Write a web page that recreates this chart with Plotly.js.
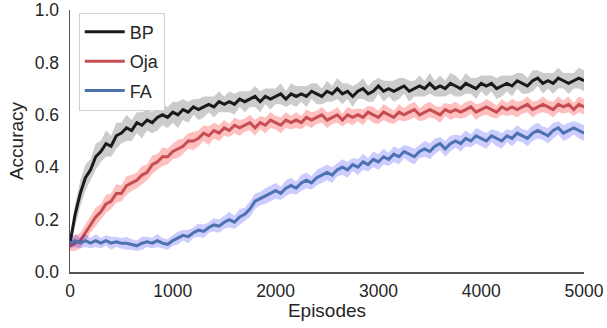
<!DOCTYPE html>
<html>
<head>
<meta charset="utf-8">
<script src="https://cdn.plot.ly/plotly-3.0.1.min.js"></script>
<style>html,body{margin:0;padding:0;background:#fff;}#chart{width:607px;height:328px;}</style>
</head>
<body>
<div id="chart"></div>
<script>
var episodeStep = 50;
var episodeMax = 5000;
var seriesNames = ["BP", "Oja", "FA"];

var bpMean = [
0.11,0.22,0.30,0.36,0.39,0.44,0.46,0.49,0.48,0.52,
0.53,0.55,0.54,0.57,0.56,0.58,0.57,0.59,0.60,0.59,
0.61,0.60,0.62,0.61,0.63,0.62,0.63,0.64,0.63,0.65,
0.64,0.65,0.64,0.66,0.65,0.66,0.67,0.65,0.67,0.66,
0.67,0.68,0.66,0.68,0.67,0.68,0.67,0.69,0.68,0.67,
0.69,0.68,0.70,0.68,0.69,0.67,0.69,0.70,0.68,0.69,
0.71,0.69,0.70,0.69,0.70,0.71,0.69,0.70,0.71,0.70,
0.72,0.70,0.71,0.70,0.72,0.71,0.70,0.72,0.71,0.70,
0.72,0.71,0.72,0.70,0.71,0.72,0.71,0.73,0.72,0.71,
0.73,0.74,0.72,0.73,0.72,0.74,0.73,0.72,0.73,0.74,
0.73];
var ojaMean = [
0.10,0.11,0.12,0.15,0.18,0.21,0.23,0.26,0.27,0.30,
0.30,0.33,0.34,0.35,0.37,0.38,0.41,0.42,0.44,0.44,
0.46,0.47,0.48,0.50,0.50,0.51,0.53,0.52,0.54,0.53,
0.55,0.54,0.56,0.55,0.56,0.57,0.55,0.57,0.56,0.58,
0.57,0.56,0.58,0.57,0.58,0.57,0.59,0.58,0.59,0.60,
0.58,0.59,0.60,0.58,0.60,0.59,0.60,0.59,0.61,0.60,
0.59,0.61,0.60,0.59,0.61,0.60,0.61,0.62,0.60,0.61,
0.62,0.61,0.60,0.62,0.61,0.62,0.61,0.62,0.63,0.61,
0.62,0.63,0.62,0.61,0.63,0.62,0.63,0.62,0.63,0.64,
0.62,0.63,0.64,0.63,0.62,0.64,0.63,0.64,0.62,0.64,
0.63];
var faMean = [
0.11,0.12,0.11,0.12,0.11,0.12,0.11,0.12,0.11,0.115,
0.11,0.11,0.105,0.10,0.11,0.115,0.11,0.12,0.11,0.105,
0.12,0.13,0.14,0.135,0.15,0.16,0.155,0.17,0.18,0.175,
0.19,0.20,0.19,0.21,0.22,0.24,0.27,0.28,0.29,0.30,
0.31,0.30,0.32,0.33,0.32,0.34,0.35,0.34,0.36,0.37,
0.38,0.37,0.39,0.40,0.39,0.41,0.40,0.42,0.41,0.43,
0.42,0.44,0.43,0.45,0.44,0.46,0.45,0.44,0.46,0.47,
0.46,0.48,0.49,0.47,0.49,0.50,0.49,0.51,0.50,0.52,
0.51,0.50,0.52,0.51,0.50,0.52,0.51,0.53,0.52,0.51,
0.53,0.54,0.53,0.52,0.54,0.55,0.53,0.54,0.55,0.54,
0.53];

var bpSpread = [
0.01,0.04,0.05,0.05,0.04,0.05,0.04,0.05,0.04,0.05,
0.04,0.05,0.04,0.04,0.05,0.04,0.04,0.05,0.04,0.04,
0.04,0.05,0.04,0.04,0.03,0.04,0.04,0.03,0.04,0.04,
0.03,0.04,0.04,0.03,0.04,0.03,0.04,0.04,0.03,0.04,
0.03,0.04,0.03,0.04,0.04,0.03,0.04,0.03,0.04,0.03,
0.04,0.03,0.04,0.04,0.03,0.04,0.03,0.04,0.03,0.04,
0.03,0.04,0.03,0.04,0.04,0.03,0.04,0.03,0.04,0.03,
0.04,0.03,0.04,0.03,0.04,0.04,0.03,0.04,0.03,0.04,
0.03,0.04,0.03,0.04,0.04,0.03,0.04,0.03,0.04,0.03,
0.04,0.03,0.04,0.03,0.04,0.04,0.03,0.04,0.03,0.04,
0.04];
var ojaSpread = [
0.02,0.03,0.03,0.03,0.03,0.035,0.03,0.035,0.03,0.035,
0.03,0.035,0.03,0.03,0.035,0.03,0.035,0.03,0.035,0.03,
0.03,0.035,0.03,0.03,0.035,0.03,0.03,0.035,0.03,0.03,
0.03,0.025,0.03,0.03,0.025,0.03,0.03,0.025,0.03,0.03,
0.025,0.03,0.03,0.025,0.03,0.025,0.03,0.03,0.025,0.03,
0.03,0.025,0.03,0.025,0.03,0.03,0.025,0.03,0.025,0.03,
0.025,0.03,0.03,0.025,0.03,0.025,0.03,0.03,0.025,0.03,
0.03,0.025,0.03,0.025,0.03,0.03,0.025,0.03,0.025,0.03,
0.025,0.03,0.03,0.025,0.03,0.025,0.03,0.03,0.025,0.03,
0.03,0.025,0.03,0.025,0.03,0.03,0.025,0.03,0.025,0.03,
0.03];
var faSpread = [
0.02,0.025,0.02,0.025,0.02,0.025,0.02,0.02,0.025,0.02,
0.02,0.025,0.02,0.02,0.025,0.02,0.02,0.025,0.02,0.02,
0.02,0.025,0.02,0.025,0.02,0.025,0.025,0.02,0.025,0.025,
0.025,0.03,0.025,0.03,0.025,0.03,0.03,0.025,0.03,0.03,
0.03,0.025,0.03,0.03,0.025,0.03,0.03,0.025,0.03,0.03,
0.03,0.03,0.025,0.03,0.03,0.025,0.03,0.03,0.025,0.03,
0.03,0.03,0.025,0.03,0.03,0.025,0.03,0.03,0.025,0.03,
0.03,0.03,0.025,0.03,0.03,0.025,0.03,0.03,0.025,0.03,
0.03,0.03,0.025,0.03,0.03,0.025,0.03,0.03,0.025,0.03,
0.03,0.03,0.025,0.03,0.03,0.025,0.03,0.03,0.025,0.03,
0.03];

var episodes = [];
for (var e = 0; e <= episodeMax; e += episodeStep) episodes.push(e);

var styles = [
  {line: "#1a1a1a", band: "rgba(0,0,0,0.2)"},
  {line: "#c44e52", band: "rgba(255,0,0,0.25)"},
  {line: "#4c72b0", band: "rgba(0,0,255,0.2)"}
];
var means = [bpMean, ojaMean, faMean];
var spreads = [bpSpread, ojaSpread, faSpread];

var traces = [];
for (var i = 0; i < 3; i++) {
  var up = [], lo = [];
  for (var k = 0; k < episodes.length; k++) {
    up.push(means[i][k] + spreads[i][k]);
    lo.push(means[i][k] - spreads[i][k]);
  }
  traces.push({
    x: episodes.concat(episodes.slice().reverse()),
    y: up.concat(lo.reverse()),
    type: "scatter", mode: "lines", fill: "toself",
    fillcolor: styles[i].band, line: {width: 0, color: styles[i].band},
    showlegend: false, hoverinfo: "skip"
  });
  traces.push({
    x: episodes, y: means[i], type: "scatter", mode: "lines",
    name: seriesNames[i], legendgroup: "g" + i,
    line: {color: styles[i].line, width: 3}
  });
}

var layout = {
  width: 607, height: 328,
  margin: {l: 70, r: 23, t: 10, b: 56},
  paper_bgcolor: "#fff", plot_bgcolor: "#fff",
  font: {family: "Liberation Sans, Arial, sans-serif", size: 17, color: "#262626"},
  xaxis: {
    range: [0, 5000], showgrid: false, zeroline: false,
    showline: true, linecolor: "#555", linewidth: 1.5,
    ticks: "", tickvals: [0,1000,2000,3000,4000,5000],
    tickfont: {size: 17.5}, ticklabelstandoff: 2,
    title: {text: "Episodes", font: {size: 19}, standoff: 2}
  },
  yaxis: {
    range: [0, 1], showgrid: false, zeroline: false,
    showline: true, linecolor: "#555", linewidth: 1.5,
    ticks: "", tickvals: [0,0.2,0.4,0.6,0.8,1.0], tickformat: ".1f",
    tickfont: {size: 17.5}, ticklabelstandoff: 6,
    title: {text: "Accuracy", font: {size: 19}, standoff: 6}
  },
  legend: {
    x: 0.017, y: 0.99, xanchor: "left", yanchor: "top",
    bgcolor: "#fff", bordercolor: "#d0d0d0", borderwidth: 1,
    font: {size: 18}, traceorder: "grouped", tracegroupgap: 3,
    itemwidth: 40
  },
  showlegend: true
};

Plotly.newPlot("chart", traces, layout, {staticPlot: true, displayModeBar: false});
</script>
</body>
</html>
